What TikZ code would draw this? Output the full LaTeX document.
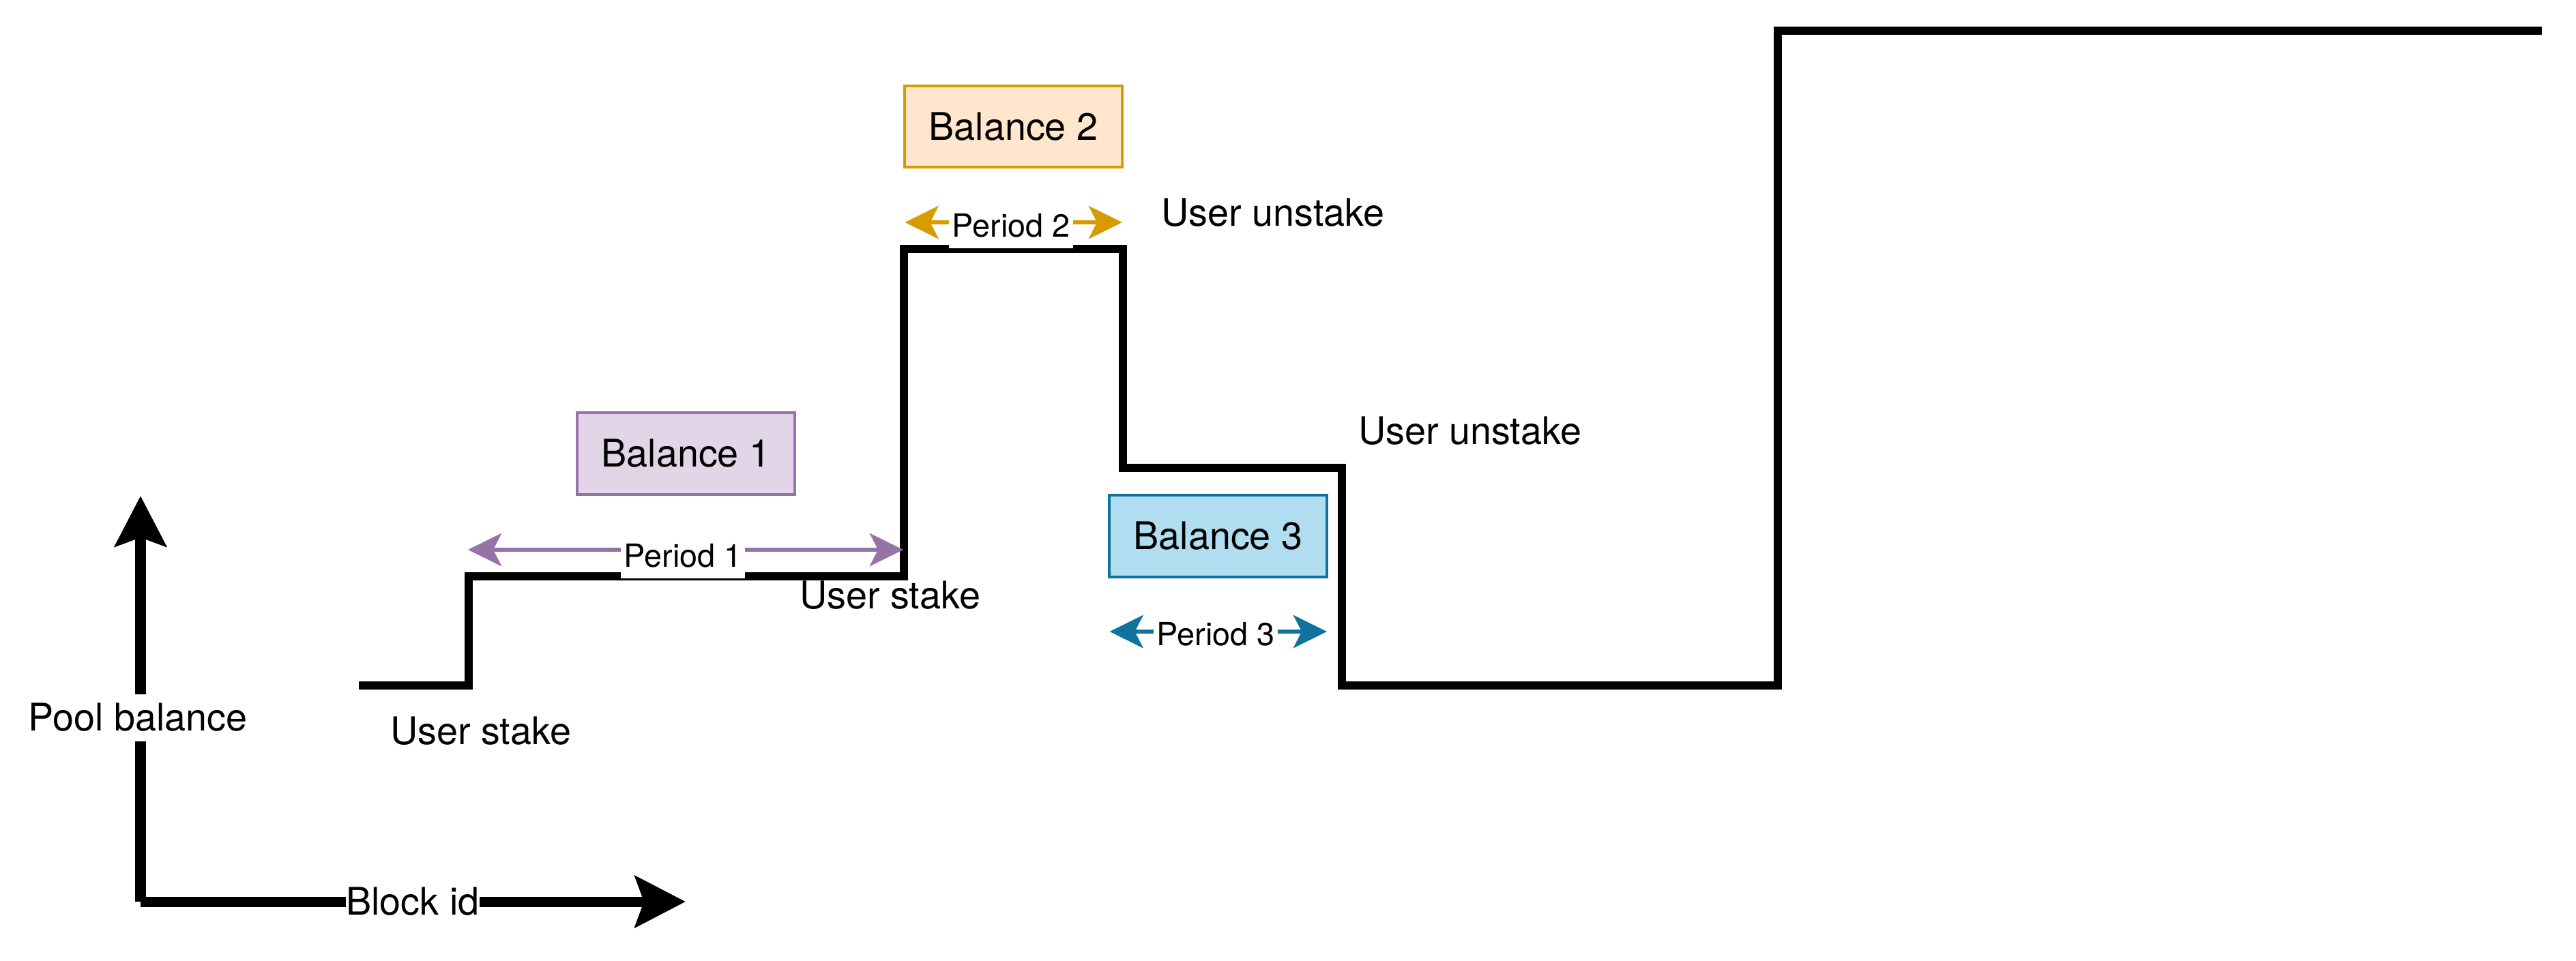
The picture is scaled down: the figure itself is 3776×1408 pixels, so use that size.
\documentclass[tikz,border=0pt]{standalone}
\usepackage{fontspec}
\setmainfont{TeX Gyre Heros}
\usetikzlibrary{arrows.meta}
\definecolor{purd}{HTML}{9673A6}
\definecolor{purf}{HTML}{E1D5E7}
\definecolor{orad}{HTML}{D79B00}
\definecolor{oraf}{HTML}{FFE6CC}
\definecolor{blud}{HTML}{10739E}
\definecolor{bluf}{HTML}{B1DDF0}
\begin{document}
\begin{tikzpicture}[x=0.01cm,y=-0.01cm,
  stepline/.style={line width=0.12cm, black, line join=miter},
  axis/.style={line width=0.15cm, black, -{Stealth[length=0.74cm,width=0.75cm,inset=0.13cm]}},
  span/.style={line width=0.065cm, {Stealth[length=0.49cm,width=0.48cm,inset=0.12cm]}-{Stealth[length=0.49cm,width=0.48cm,inset=0.12cm]}},
  lbl/.style={font=\fontsize{15.85pt}{18pt}\selectfont, inner sep=0pt},
  axlbl/.style={lbl, fill=white, text height=0.542cm, text depth=0.148cm},
  perlbl/.style={font=\fontsize{13.3pt}{15pt}\selectfont, fill=white, inner xsep=0.045cm, inner ysep=0pt, text height=0.35cm, text depth=0.16cm},
  balbox/.style={lbl, line width=0.04cm, minimum width=3.18cm, minimum height=1.19cm}
]
\useasboundingbox (0,0) rectangle (3776,1408);

% axes
\coordinate (o) at (206,1322);
\coordinate (ytip) at (206,727);
\coordinate (xtip) at (1005,1322);
\draw[axis] (o) -- (ytip);
\draw[axis] (o) -- (xtip);
\node[axlbl] (ylab) at (202,1052) {Pool balance};
\node[axlbl] (xlab) at (605,1322) {Block id};

% step line
\coordinate (s0) at (526,1005);
\coordinate (s1) at (687,1005);
\coordinate (s2) at (687,845);
\coordinate (s3) at (1325,845);
\coordinate (s4) at (1325,365);
\coordinate (s5) at (1646,365);
\coordinate (s6) at (1646,686);
\coordinate (s7) at (1967,686);
\coordinate (s8) at (1967,1005);
\coordinate (s9) at (2606,1005);
\coordinate (s10) at (2606,45);
\coordinate (s11) at (3726,45);
\draw[stepline] (s0) -- (s1) -- (s2) -- (s3) -- (s4) -- (s5) -- (s6) -- (s7) -- (s8) -- (s9) -- (s10) -- (s11);

% balance boxes
\node[balbox, draw=purd, fill=purf] (b1) at (1005.5,665) {Balance 1};
\node[balbox, draw=orad, fill=oraf] (b2) at (1485.5,185.5) {Balance 2};
\node[balbox, draw=blud, fill=bluf] (b3) at (1785.5,786) {Balance 3};

% periods
\coordinate (p1a) at (686,806);
\coordinate (p1b) at (1324,806);
\draw[span, purd] (p1a) -- (p1b);
\node[perlbl] (p1lab) at (1001,822) {Period 1};

\coordinate (p2a) at (1326.5,326);
\coordinate (p2b) at (1645,326);
\draw[span, orad] (p2a) -- (p2b);
\node[perlbl] (p2lab) at (1482,338) {Period 2};

\coordinate (p3a) at (1626.5,926);
\coordinate (p3b) at (1945,926);
\draw[span, blud] (p3a) -- (p3b);
\node[perlbl] (p3lab) at (1782,937) {Period 3};

% event labels
\node[lbl] (us1) at (704.5,1072) {User stake};
\node[lbl] (us2) at (1304.5,873) {User stake};
\node[lbl] (uu1) at (1866,312) {User unstake};
\node[lbl] (uu2) at (2154.5,632) {User unstake};
\end{tikzpicture}
\end{document}
